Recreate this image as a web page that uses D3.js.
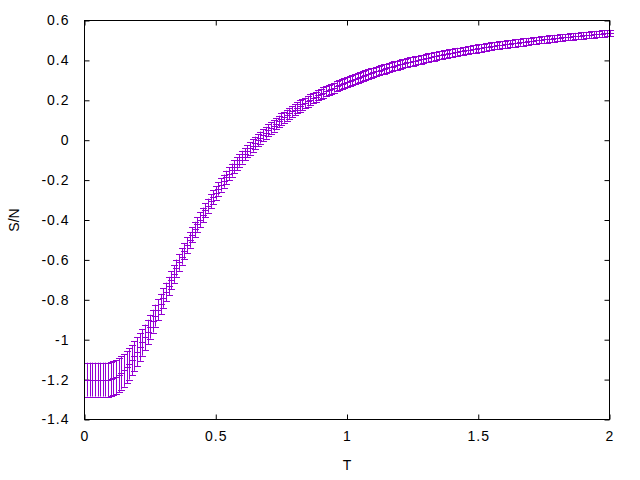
<!DOCTYPE html>
<html><head><meta charset="utf-8">
<script src="https://cdn.jsdelivr.net/npm/d3@7"></script>
<style>
html,body{margin:0;padding:0;background:#fff;}
svg text{font-family:"Liberation Sans",Arial,sans-serif;font-size:14px;fill:#000;}
</style></head><body>
<svg id="chart" width="640" height="480"></svg>
<script>
const xTicks = [0, 0.5, 1, 1.5, 2];
const yTicks = [-1.4, -1.2, -1, -0.8, -0.6, -0.4, -0.2, 0, 0.2, 0.4, 0.6];
const xLabel = "T";
const yLabel = "S/N";

const T = [
0.01,0.02,0.03,0.04,0.05,0.06,0.07,0.08,0.09,0.10,
0.11,0.12,0.13,0.14,0.15,0.16,0.17,0.18,0.19,0.20,
0.21,0.22,0.23,0.24,0.25,0.26,0.27,0.28,0.29,0.30,
0.31,0.32,0.33,0.34,0.35,0.36,0.37,0.38,0.39,0.40,
0.41,0.42,0.43,0.44,0.45,0.46,0.47,0.48,0.49,0.50,
0.51,0.52,0.53,0.54,0.55,0.56,0.57,0.58,0.59,0.60,
0.61,0.62,0.63,0.64,0.65,0.66,0.67,0.68,0.69,0.70,
0.71,0.72,0.73,0.74,0.75,0.76,0.77,0.78,0.79,0.80,
0.81,0.82,0.83,0.84,0.85,0.86,0.87,0.88,0.89,0.90,
0.91,0.92,0.93,0.94,0.95,0.96,0.97,0.98,0.99,1.00,
1.01,1.02,1.03,1.04,1.05,1.06,1.07,1.08,1.09,1.10,
1.11,1.12,1.13,1.14,1.15,1.16,1.17,1.18,1.19,1.20,
1.21,1.22,1.23,1.24,1.25,1.26,1.27,1.28,1.29,1.30,
1.31,1.32,1.33,1.34,1.35,1.36,1.37,1.38,1.39,1.40,
1.41,1.42,1.43,1.44,1.45,1.46,1.47,1.48,1.49,1.50,
1.51,1.52,1.53,1.54,1.55,1.56,1.57,1.58,1.59,1.60,
1.61,1.62,1.63,1.64,1.65,1.66,1.67,1.68,1.69,1.70,
1.71,1.72,1.73,1.74,1.75,1.76,1.77,1.78,1.79,1.80,
1.81,1.82,1.83,1.84,1.85,1.86,1.87,1.88,1.89,1.90,
1.91,1.92,1.93,1.94,1.95,1.96,1.97,1.98,1.99,2.00];

const S = [
-1.200,-1.200,-1.200,-1.200,-1.200,-1.200,-1.200,-1.200,-1.200,-1.198,
-1.194,-1.187,-1.178,-1.167,-1.154,-1.139,-1.122,-1.103,-1.082,-1.060,
-1.037,-1.013,-0.988,-0.962,-0.935,-0.907,-0.879,-0.850,-0.821,-0.791,
-0.761,-0.731,-0.701,-0.671,-0.641,-0.612,-0.583,-0.555,-0.527,-0.500,
-0.473,-0.447,-0.422,-0.398,-0.374,-0.351,-0.328,-0.306,-0.285,-0.264,
-0.244,-0.224,-0.205,-0.186,-0.168,-0.150,-0.133,-0.117,-0.101,-0.085,
-0.070,-0.055,-0.041,-0.027,-0.013,0.000,0.013,0.025,0.037,0.049,
0.061,0.072,0.083,0.094,0.105,0.115,0.125,0.135,0.144,0.153,
0.162,0.171,0.179,0.187,0.195,0.203,0.211,0.218,0.225,0.232,
0.239,0.246,0.252,0.258,0.264,0.270,0.276,0.282,0.287,0.293,
0.298,0.303,0.308,0.313,0.318,0.323,0.328,0.332,0.337,0.341,
0.345,0.349,0.353,0.357,0.361,0.365,0.369,0.373,0.376,0.380,
0.383,0.387,0.390,0.393,0.396,0.399,0.402,0.405,0.408,0.411,
0.414,0.417,0.420,0.422,0.425,0.428,0.430,0.433,0.435,0.438,
0.440,0.443,0.445,0.447,0.450,0.452,0.454,0.456,0.458,0.461,
0.463,0.465,0.467,0.469,0.471,0.473,0.475,0.477,0.479,0.480,
0.482,0.484,0.486,0.487,0.489,0.491,0.492,0.494,0.496,0.497,
0.499,0.500,0.502,0.503,0.505,0.506,0.508,0.509,0.511,0.512,
0.513,0.515,0.516,0.518,0.519,0.520,0.522,0.523,0.524,0.525,
0.527,0.528,0.529,0.530,0.532,0.533,0.534,0.535,0.536,0.537];

const dS = [
0.085,0.085,0.085,0.085,0.085,0.085,0.085,0.085,0.085,0.085,
0.085,0.085,0.084,0.083,0.082,0.080,0.078,0.076,0.074,0.072,
0.069,0.067,0.064,0.062,0.060,0.057,0.055,0.053,0.051,0.049,
0.047,0.046,0.045,0.044,0.043,0.042,0.041,0.040,0.040,0.039,
0.038,0.038,0.037,0.037,0.036,0.036,0.035,0.035,0.035,0.034,
0.034,0.034,0.033,0.033,0.033,0.033,0.032,0.032,0.032,0.032,
0.031,0.031,0.031,0.031,0.031,0.030,0.030,0.030,0.030,0.030,
0.029,0.029,0.029,0.029,0.029,0.028,0.028,0.028,0.028,0.028,
0.028,0.028,0.028,0.027,0.027,0.027,0.027,0.026,0.026,0.026,
0.026,0.026,0.026,0.026,0.025,0.025,0.025,0.025,0.025,0.025,
0.025,0.025,0.025,0.024,0.024,0.024,0.024,0.024,0.024,0.023,
0.023,0.023,0.023,0.023,0.023,0.022,0.022,0.022,0.022,0.022,
0.022,0.022,0.022,0.022,0.022,0.021,0.021,0.021,0.021,0.021,
0.021,0.021,0.021,0.020,0.020,0.020,0.020,0.020,0.020,0.020,
0.020,0.020,0.019,0.019,0.019,0.019,0.019,0.019,0.019,0.019,
0.019,0.019,0.019,0.019,0.019,0.018,0.018,0.018,0.018,0.018,
0.018,0.018,0.018,0.018,0.018,0.018,0.018,0.017,0.017,0.017,
0.017,0.017,0.017,0.017,0.017,0.017,0.017,0.017,0.017,0.017,
0.017,0.017,0.016,0.016,0.016,0.016,0.016,0.016,0.016,0.016,
0.016,0.016,0.016,0.016,0.016,0.016,0.016,0.016,0.016,0.016];

const color = "#9400d3";
const svg = d3.select("#chart");
const L = 84.5, R = 609.5, Tp = 20.5, B = 419.5;
const x = d3.scaleLinear().domain([0, 2]).range([L, R]);
const y = d3.scaleLinear().domain([-1.4, 0.6]).range([B, Tp]);
const tickLen = 5, cap = 3.5, ps = 3.5;

// axes with inward ticks (mirrored)
const fmt = d => String(d).replace("-", "-");
svg.append("g").attr("transform", `translate(0,${B})`)
  .call(d3.axisBottom(x).tickValues(xTicks).tickSize(-tickLen).tickPadding(12).tickFormat(fmt))
  .call(g => { g.select(".domain").remove(); g.selectAll("text").style("font-size","14px").style("font-family","Liberation Sans, Arial, sans-serif").style("letter-spacing","1px"); });
svg.append("g").attr("transform", `translate(0,${Tp})`)
  .call(d3.axisTop(x).tickValues(xTicks).tickSize(-tickLen).tickFormat(""))
  .call(g => g.select(".domain").remove());
svg.append("g").attr("transform", `translate(${L},0)`)
  .call(d3.axisLeft(y).tickValues(yTicks).tickSize(-tickLen).tickPadding(15).tickFormat(fmt))
  .call(g => { g.select(".domain").remove(); g.selectAll("text").style("font-size","14px").style("font-family","Liberation Sans, Arial, sans-serif").style("letter-spacing","1px"); });
svg.append("g").attr("transform", `translate(${R},0)`)
  .call(d3.axisRight(y).tickValues(yTicks).tickSize(-tickLen).tickFormat(""))
  .call(g => g.select(".domain").remove());
svg.selectAll(".tick line").attr("stroke", "#000");

// error bars
const data = T.map((t, i) => ({t, s: S[i], e: dS[i]}));
const gE = svg.append("g").attr("stroke", color).attr("stroke-width", 1).attr("fill", "none");
const p = d3.path();
data.forEach(d => {
  const cx = Math.round(x(d.t)) + 0.5;
  const y1 = y(d.s + d.e), y2 = y(d.s - d.e), yc = y(d.s);
  p.moveTo(cx, y1); p.lineTo(cx, y2);
  p.moveTo(cx - cap, Math.round(y1) + 0.5); p.lineTo(cx + cap, Math.round(y1) + 0.5);
  p.moveTo(cx - cap, Math.round(y2) + 0.5); p.lineTo(cx + cap, Math.round(y2) + 0.5);
  p.moveTo(cx - ps, Math.round(yc) + 0.5); p.lineTo(cx + ps, Math.round(yc) + 0.5);
});
gE.append("path").attr("d", p.toString());

// frame
svg.append("rect").attr("x", L).attr("y", Tp).attr("width", R - L).attr("height", B - Tp)
  .attr("fill", "none").attr("stroke", "#000").attr("stroke-width", 1);

// axis titles
svg.append("text").attr("x", (L + R) / 2).attr("y", 470).attr("text-anchor", "middle").text(xLabel);
svg.append("text").attr("transform", `translate(19,${(Tp + B) / 2}) rotate(-90)`)
  .attr("text-anchor", "middle").text(yLabel);
</script>
</body></html>
